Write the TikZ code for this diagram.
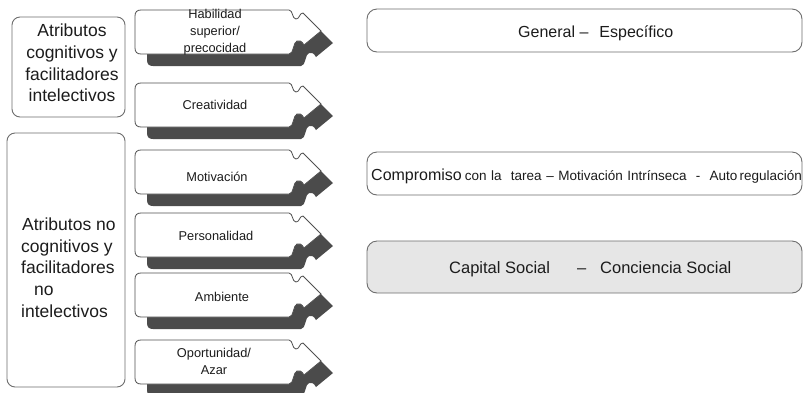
\documentclass[tikz,border=0pt]{standalone}
\usepackage{fontspec}
\setmainfont{Liberation Sans}
\definecolor{boxline}{HTML}{6E6E6E}
\definecolor{textc}{HTML}{1C1C1C}
\definecolor{shadowc}{HTML}{4B4B4B}
\definecolor{capfill}{HTML}{E6E6E6}
\definecolor{pieceline}{HTML}{505050}
\tikzset{
  lbox/.style={draw=boxline, line width=0.9pt, rounded corners=8pt, fill=white},
  rbox/.style={draw=boxline, line width=0.9pt, rounded corners=10pt, fill=white},
  txt/.style={text=textc, inner sep=0pt},
  ltxt/.style={txt, font=\fontsize{17.5}{21.7}\selectfont},
  ptxt/.style={txt, align=center, font=\fontsize{12.8}{17}\selectfont},
  piecestyle/.style={draw=pieceline, line width=0.8pt, fill=white},
  piece/.pic={
    \begin{scope}[shift={(12,12)}]
      \fill[shadowc] (6,0) -- (154,0) .. controls (158,0) and (157,9) .. (161,9)
        .. controls (165,9) and (164,3) .. (168,3) -- (186,21) -- (169,35)
        .. controls (167,31) and (164,30) .. (162,31) .. controls (158,32) and (159,44) .. (154,44)
        -- (6,44) .. controls (2,44) and (0,42) .. (0,38) -- (0,6) .. controls (0,2) and (2,0) .. (6,0) -- cycle;
    \end{scope}
    \path[piecestyle] (6,0) -- (154,0) .. controls (158,0) and (157,9) .. (161,9)
        .. controls (165,9) and (164,3) .. (168,3) -- (186,21) -- (169,35)
        .. controls (167,31) and (164,30) .. (162,31) .. controls (158,32) and (159,44) .. (154,44)
        -- (6,44) .. controls (2,44) and (0,42) .. (0,38) -- (0,6) .. controls (0,2) and (2,0) .. (6,0) -- cycle;
  }
}
\begin{document}
\begin{tikzpicture}[x=1pt,y=-1pt]
\useasboundingbox (0,0) rectangle (804,392);
\clip (0,0) rectangle (804,392);
\fill[white] (0,0) rectangle (804,392);

% left boxes
\node[lbox, minimum width=113pt, minimum height=100pt] (cog) at (68.5,67) {};
\node[lbox, minimum width=118pt, minimum height=254pt] (noncog) at (66,260) {};
\node[ltxt, align=center] (cogtxt) at (72,63) {Atributos\\cognitivos y\\facilitadores\\intelectivos};
\node[ltxt, align=left, anchor=west] (noncogtxt) at (21,267.6) {\hspace{1pt}Atributos no\\cognitivos y\\facilitadores\\\hspace{13pt}no\\intelectivos};

% puzzle pieces
\pic at (135,10) {piece};
\pic at (135,83) {piece};
\pic at (135,150) {piece};
\pic at (135,213) {piece};
\pic at (135,273) {piece};
\pic at (135,340) {piece};

\node[ptxt] (p1) at (215,32) {Habilidad\\superior/\\precocidad};
\node[ptxt] (p2) at (215,105) {Creatividad};
\node[ptxt] (p3) at (217,177) {Motivación};
\node[ptxt] (p4) at (216,236) {Personalidad};
\node[ptxt] (p5) at (222,297) {Ambiente};
\node[ptxt] (p6) at (214,361) {Oportunidad/\\Azar};

% right boxes
\node[rbox, minimum width=435pt, minimum height=43pt] (gen) at (584.5,30.5) {};
\node[rbox, minimum width=435pt, minimum height=43pt] (comp) at (584.5,173.5) {};
\node[rbox, fill=capfill, minimum width=435pt, minimum height=52pt] (cap) at (584.5,267) {};

\node[txt, anchor=base west, font=\fontsize{16}{19}\selectfont] (gentxt) at (518,37) {General –\hspace{11pt}Específico};
\node[txt, anchor=base west] (comptxt) at (371,180) {{\fontsize{16}{19}\selectfont Compromiso}\hspace{3pt}{\fontsize{13.5}{16}\selectfont\makebox[337pt][s]{con la\ \ tarea – Motivación Intrínseca\ \ -\ \ Auto\,regulación}}};
\node[txt, anchor=base west, font=\fontsize{16.5}{19}\selectfont] (captxt) at (449,273) {Capital Social\hspace{27pt}–\hspace{14pt}Conciencia Social};
\end{tikzpicture}
\end{document}
